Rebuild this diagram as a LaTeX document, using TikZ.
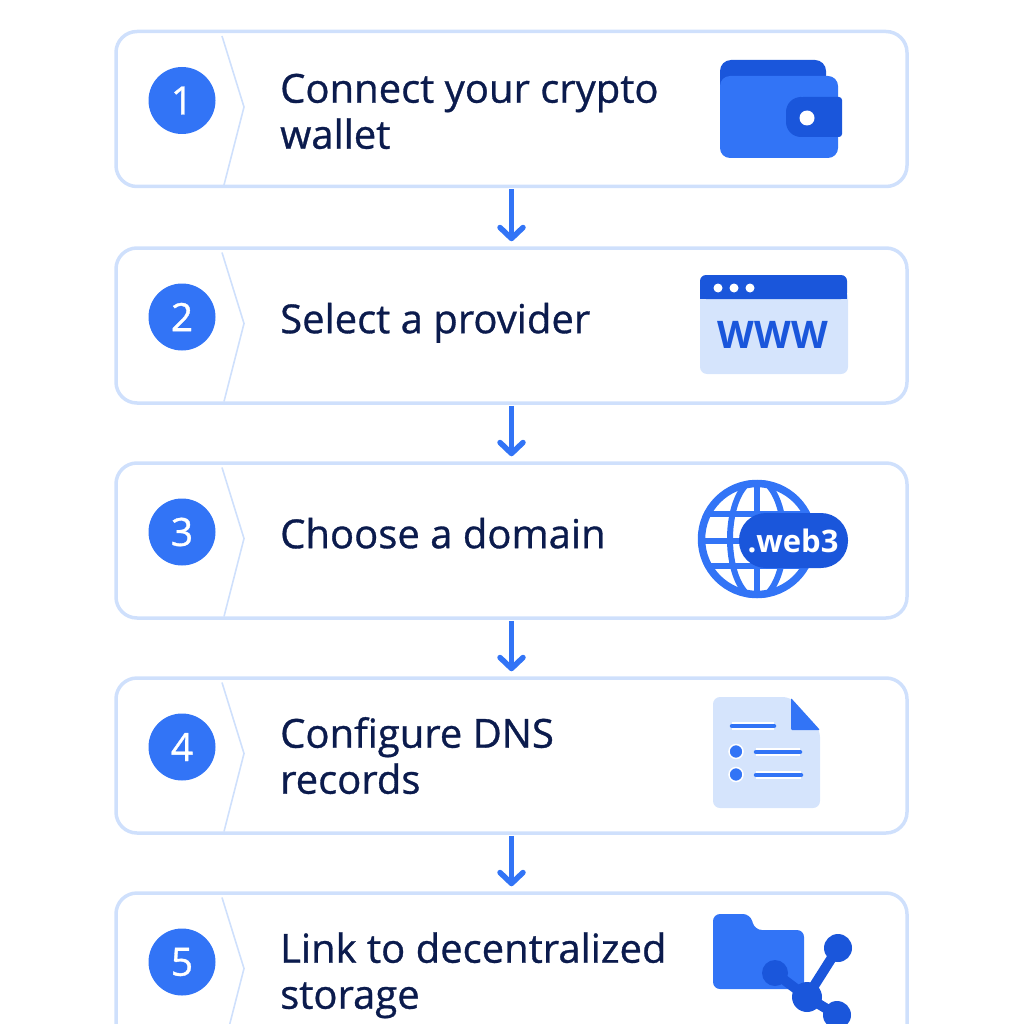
\documentclass[tikz,border=0pt]{standalone}
\usepackage{fontspec}
\setmainfont{Open Sans}
\newfontfamily\medfont[FakeBold=0.8]{Open Sans}
\usetikzlibrary{arrows.meta}

\definecolor{cardline}{HTML}{CFE0FC}
\definecolor{stepblue}{HTML}{3274F6}
\definecolor{darkblue}{HTML}{1A56DB}
\definecolor{paleblue}{HTML}{D5E4FC}
\definecolor{inkblue}{HTML}{0B1B4D}

\tikzset{
    card/.style={draw=cardline, line width=3.5pt, rounded corners=21pt, minimum width=791pt, minimum height=155pt, inner sep=0pt},
    badge/.style={circle, fill=stepblue, minimum size=67pt, inner sep=0pt, text=white, font=\medfont\fontsize{39}{39}\selectfont},
    steptext/.style={anchor=west, align=left, text=inkblue, inner sep=0pt, font=\medfont\fontsize{40}{46}\selectfont},
    flow/.style={draw=stepblue, line width=5.5pt, line join=round, shorten <=1pt, shorten >=5pt, -{Straight Barb[length=11pt, width=23pt, line width=5.5pt, round]}},
    notch/.style={draw=cardline, line width=1.6pt, line join=round},
    docline/.style={draw=stepblue, line width=4.5pt, line cap=round, preaction={draw=white, line width=8pt}},
    docdot/.style={fill=stepblue, draw=white, line width=1.5pt}
}

\begin{document}
\begin{tikzpicture}[x=1pt, y=-1pt]
    \useasboundingbox (0,0) rectangle (1024,1024);
    \clip (0,0) rectangle (1024,1024);

    % cards
    \foreach \n/\y/\ty/\txt in {1/109/116.5/{Connect your crypto\\\strut wallet},
                                2/325.5/324/{Select a provider},
                                3/540.5/539/{Choose a domain},
                                4/755.5/761.5/{Configure DNS\\\strut records},
                                5/970.5/976.5/{Link to decentralized\\\strut storage}} {
        \node[card] (card\n) at (511.5,\y) {};
        \node[badge] (badge\n) at (182,\y-8.5) {\n};
        \node[steptext] (text\n) at (280,\ty) {\strut\txt};
        \draw[notch] (222,\y-73) -- (244,\y-2) -- (224,\y+76);
    }

    % arrows
    \foreach \a/\b in {1/2, 2/3, 3/4, 4/5} {
        \draw[flow] (card\a) -- (card\b);
    }

    % wallet
    \fill[darkblue, rounded corners=11pt] (720,60) -- (826,60) -- (826,100) -- (720,100) -- cycle;
    \fill[stepblue, rounded corners=10pt] (720,76) -- (838,76) -- (838,158) -- (720,158) -- cycle;
    \fill[darkblue, rounded corners=15pt] (815,97) -- (786,97) -- (786,137) -- (815,137) -- cycle;
    \fill[darkblue, rounded corners=3pt] (800,97) -- (842,97) -- (842,137) -- (800,137) -- cycle;
    \fill[white] (807,118) circle (7.5);

    % browser
    \fill[paleblue, rounded corners=7pt] (700,290) rectangle (848,374);
    \fill[darkblue, rounded corners=6pt] (700,275) rectangle (847,299);
    \fill[darkblue] (700,290) rectangle (847,299);
    \foreach \x in {718,734,750} \fill[white] (\x,288) circle (4.5);
    \node[text=darkblue, inner sep=0pt, font=\bfseries\fontsize{38}{38}\selectfont] (www) at (773,335) {WWW};

    % globe
    \begin{scope}
        \clip (757,539) circle (59);
        \fill[white] (757,539) circle (59);
        \draw[stepblue, line width=6pt] (757,539) ellipse (27 and 59);
        \draw[stepblue, line width=6pt] (757,480) -- (757,598);
        \draw[stepblue, line width=6pt] (698,514) -- (816,514);
        \draw[stepblue, line width=6pt] (698,541) -- (816,541);
        \draw[stepblue, line width=6pt] (698,566) -- (816,566);
    \end{scope}
    \draw[stepblue, line width=7.5pt] (757,539) circle (55.5);
    \fill[darkblue, rounded corners=27pt] (739,513) rectangle (848,568);
    \node[text=white, inner sep=0pt, font=\bfseries\fontsize{31}{31}\selectfont] (web) at (793,541) {.web3};

    % document
    \fill[paleblue, rounded corners=7pt] (713,697) -- (790,697) -- (820,730) -- (820,808) -- (713,808) -- cycle;
    \fill[stepblue, rounded corners=1pt] (791,698) -- (820,730) -- (791,730) -- cycle;
    \draw[docline] (732,726) -- (774,726);
    \draw[docline] (756,752) -- (800,752);
    \draw[docline] (756,775) -- (801,775);
    \filldraw[docdot] (736,751.5) circle (7);
    \filldraw[docdot] (736,774.5) circle (7);

    % folder
    \fill[stepblue, rounded corners=7pt] (713,914) -- (750,914) -- (755,930) -- (804,930) -- (804,989) -- (713,989) -- cycle;
    \draw[darkblue, line width=10pt] (775,973) -- (807,997) -- (838,948);
    \draw[darkblue, line width=10pt] (807,997) -- (837,1015);
    \fill[darkblue] (775,973) circle (13);
    \fill[darkblue] (838,948) circle (14);
    \fill[darkblue] (807,997) circle (15);
    \fill[darkblue] (837,1015) circle (14);
\end{tikzpicture}
\end{document}
